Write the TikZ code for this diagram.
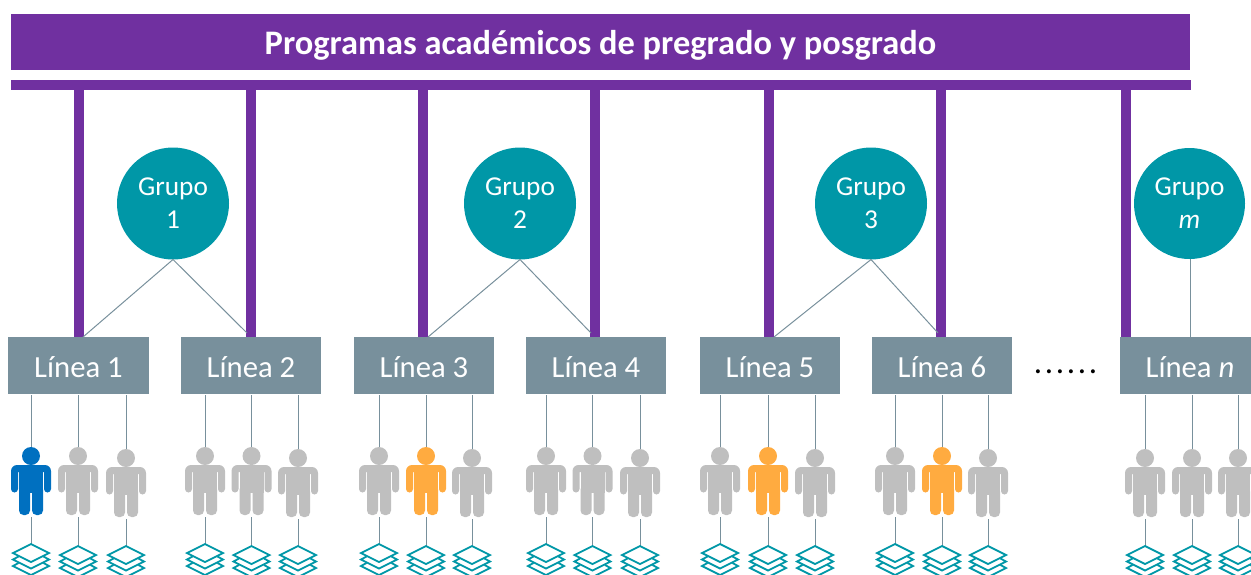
\documentclass[tikz,border=0pt]{standalone}
\usepackage{fontspec}
\setmainfont{Carlito}
\definecolor{purp}{HTML}{7030A0}
\definecolor{teal1}{HTML}{0097A7}
\definecolor{slate}{HTML}{78909C}
\definecolor{gray1}{HTML}{BFBFBF}
\definecolor{blue1}{HTML}{0070C0}
\definecolor{orange1}{HTML}{FFAB40}
\tikzset{
  bar/.style={fill=purp,draw=none,inner sep=0pt,outer sep=0pt},
  linebox/.style={fill=slate,draw=none,inner sep=0pt,outer sep=0pt,text=white,minimum height=57pt,text height=24pt,text depth=0pt,font=\fontsize{30.7}{36}\selectfont},
  grp/.style={circle,fill=teal1,draw=none,inner sep=0pt,outer sep=0pt,text=white,align=center,font=\fontsize{27.3}{33}\selectfont},
  thin link/.style={draw=slate,line width=1pt},
  post/.style={draw=purp,line width=10pt},
  headn/.style={circle,inner sep=0pt,outer sep=0pt,minimum size=18pt},
  pics/person/.style={code={
    \fill[#1] (0,0) [rounded corners=6pt] -- (20,0) [rounded corners=3.5pt] -- (20,27.5) -- (13,27.5) [sharp corners] -- (13,7) -- (-13,7) [rounded corners=3.5pt] -- (-13,27.5) -- (-20,27.5) [rounded corners=6pt] -- (-20,0) [sharp corners] -- cycle;
    \fill[#1] (-12,1) rectangle (12,28);
    \fill[#1,rounded corners=4.5pt] (-12,20) -- (-12,50) -- (-1,50) -- (-1,20) -- cycle;
    \fill[#1,rounded corners=4.5pt] (12,20) -- (12,50) -- (1,50) -- (1,20) -- cycle;
  }},
  pics/stack/.style={code={
    \begin{scope}[draw=teal1,line width=1.8pt,line join=miter]
    \draw (-18,9) -- (0,0) -- (18,9) -- (0,18) -- cycle;
    \draw (-12.5,12.5) -- (-18,15.5) -- (0,24.5) -- (18,15.5) -- (12.5,12.5);
    \draw (-12.5,19) -- (-18,22) -- (0,31) -- (18,22) -- (12.5,19);
    \end{scope}
  }}
}
\begin{document}
\begin{tikzpicture}[x=1pt,y=-1pt]
\useasboundingbox (0,0) rectangle (1251,574);
\clip (0,0) rectangle (1251,574);
\node[bar,text=white,minimum width=1179pt,minimum height=56pt,text height=24pt,text depth=0pt,font=\fontsize{34.4}{40}\selectfont\bfseries] (title) at (600.5,42) {Programas académicos de pregrado y posgrado};
\node[bar,minimum width=1180pt,minimum height=10pt] (rail) at (601,85) {};
% posts
\foreach \n/\x in {1/78.5,2/250.5,3/422.5,4/595,5/769,6/941,7/1125.5}{
  \coordinate (pa\n) at (\x,90);
  \coordinate (pb\n) at (\x,338);
  \draw[post] (pa\n) -- (pb\n);
}
\node[linebox,minimum width=141pt] (l1) at (78.5,365.5) {Línea 1};
\node[linebox,minimum width=140pt] (l2) at (251,365.5) {Línea 2};
\node[linebox,minimum width=140pt] (l3) at (424,365.5) {Línea 3};
\node[linebox,minimum width=140pt] (l4) at (596,365.5) {Línea 4};
\node[linebox,minimum width=140pt] (l5) at (770,365.5) {Línea 5};
\node[linebox,minimum width=140pt] (l6) at (942,365.5) {Línea 6};
\fill[slate] (1120,337) rectangle (1251,394);
\node[inner sep=0pt,text=white,text height=24pt,text depth=0pt,font=\fontsize{30.7}{36}\selectfont] (l7) at (1190,365.5) {Línea \textit{n}};
\coordinate (l7top) at (1190,337);
% groups
\node[grp,minimum size=112pt] (g1) at (173,203.5) {Grupo\\1};
\node[grp,minimum size=112pt] (g2) at (520,203.5) {Grupo\\2};
\node[grp,minimum size=112pt] (g3) at (871,203.5) {Grupo\\3};
\node[grp,minimum size=111pt] (g4) at (1189.5,203.5) {Grupo\\\textit{m}};
\coordinate (e1) at (83,337); \coordinate (e2) at (247,333);
\coordinate (e3) at (428,337); \coordinate (e4) at (591,333);
\coordinate (e5) at (774,337); \coordinate (e6) at (938,333);
\draw[thin link] (e1) -- (g1.south) -- (e2);
\draw[thin link] (e3) -- (g2.south) -- (e4);
\draw[thin link] (e5) -- (g3.south) -- (e6);
\draw[thin link] (g4.south -| l7top) -- (l7top);
% people: id / x / shoulder y / colour / stack y
\foreach \i/\x/\y/\c/\s in {
 a/31/465/blue1/544, b/78/465/gray1/546, c/126/467/gray1/546,
 d/205/465/gray1/544, e/251.5/465/gray1/546, f/298/467/gray1/546,
 g/379/465/gray1/544, h/426/465/orange1/546, i/472/467/gray1/546,
 j/546/465/gray1/544, k/592.5/465/gray1/546, m/640/467/gray1/546,
 n/720/465/gray1/544, o/768/465/orange1/546, p/815/467/gray1/546,
 q/895/465/gray1/544, r/942/465/orange1/546, s/988/467/gray1/546,
 t/1145/467/gray1/546, u/1192/467/gray1/546, v/1238/467/gray1/546}{
  \node[headn,fill=\c] (h\i) at (\x,\y-9) {};
  \coordinate (top\i) at (\x,395);
  \draw[thin link] (top\i) -- (h\i.north);
  \pic at (\x,\y) {person=\c};
  \coordinate (foot\i) at (\x,\y+52);
  \coordinate (st\i) at (\x,\s);
  \draw[thin link] (foot\i) -- (st\i);
  \pic at (\x,\s) {stack};
}
\node[inner sep=0pt,font=\fontsize{33}{38}\selectfont] (dots) at (1065.5,372) {.\kern2.7pt.\kern2.7pt.\kern2.7pt.\kern2.7pt.\kern2.7pt.};
\end{tikzpicture}
\end{document}
